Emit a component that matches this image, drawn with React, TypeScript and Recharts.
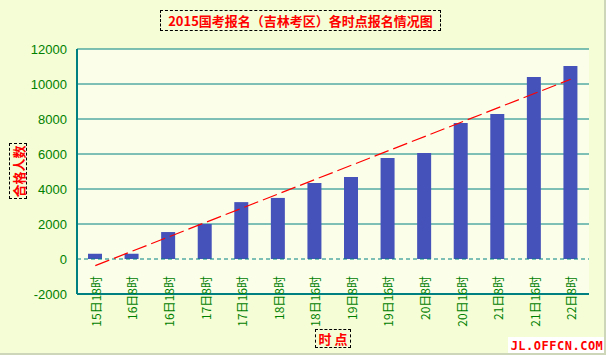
import React from "react";
import {
  ComposedChart,
  Bar,
  Line,
  XAxis,
  YAxis,
  CartesianGrid,
  ReferenceLine,
} from "recharts";

const categories = [
  "15日18时", "16日8时", "16日18时", "17日8时", "17日16时", "18日8时", "18日16时",
  "19日8时", "19日16时", "20日8时", "20日16时", "21日8时", "21日16时", "22日8时",
];
const applicants = [300, 300, 1540, 2000, 3250, 3490, 4340, 4690, 5770, 6060, 7770, 8290, 10400, 11030];
// trend line end points, nulls in between
const trend = [-380, null, null, null, null, null, null, null, null, null, null, null, null, 10270];
const yTicks = [-2000, 0, 2000, 4000, 6000, 8000, 10000, 12000];
const gridValues = [2000, 4000, 6000, 8000, 10000, 12000];

const data = categories.map((c, i) => ({ name: c, value: applicants[i], trend: trend[i] }));

const TEAL = "#008080";
const GREEN = "#008000";
const RED = "#ff0000";
const CJK = "'Noto Sans CJK SC', 'Liberation Sans', sans-serif";

function XTick(props: any) {
  const { x, y, payload } = props;
  // labels hang just below the zero line, reading bottom-to-top
  return (
    <text
      x={x}
      y={y - 26}
      transform={`rotate(-90, ${x}, ${y - 26})`}
      textAnchor="end"
      dominantBaseline="central"
      fill={GREEN}
      fontSize={12}
      fontFamily={CJK}
    >
      {payload.value}
    </text>
  );
}

const boxStyle: React.CSSProperties = {
  position: "absolute",
  border: "1px dashed #000",
  color: RED,
  fontWeight: "bold",
  fontSize: 13,
  fontFamily: CJK,
  boxSizing: "border-box",
  display: "flex",
  alignItems: "center",
  justifyContent: "center",
  lineHeight: 1,
};

export default function App() {
  return (
    <div
      style={{
        position: "absolute",
        left: 0,
        top: 0,
        width: 606,
        height: 355,
        background: "#f4fdd5",
        boxSizing: "border-box",
        borderRight: "2px solid #cdd6b8",
        borderBottom: "2px solid #cdd6b8",
        overflow: "hidden",
      }}
    >
      <ComposedChart
        width={606}
        height={355}
        data={data}
        margin={{ top: 49, right: 17, left: 27, bottom: 41 }}
      >
        <CartesianGrid
          vertical={false}
          horizontalValues={gridValues}
          stroke={TEAL}
          strokeWidth={1}
          fill="#fbffea"
        />
        <ReferenceLine y={0} stroke={TEAL} strokeDasharray="4 3" />
        <XAxis
          dataKey="name"
          interval={0}
          height={20}
          axisLine={{ stroke: TEAL, strokeWidth: 2 }}
          tickLine={false}
          tick={<XTick />}
        />
        <YAxis
          width={50}
          domain={[-2000, 12000]}
          ticks={yTicks}
          interval={0}
          axisLine={{ stroke: TEAL, strokeWidth: 2 }}
          tickLine={false}
          tickSize={0}
          tickMargin={10}
          tick={{ fill: GREEN, fontSize: 13, fontFamily: "'Liberation Sans', sans-serif" }}
        />
        <YAxis
          yAxisId="r"
          orientation="right"
          width={0}
          domain={[-2000, 12000]}
          tick={false}
          tickLine={false}
          axisLine={{ stroke: TEAL, strokeWidth: 2 }}
        />
        <Bar dataKey="value" fill="#4552b9" barSize={14} isAnimationActive={false} />
        <Line
          dataKey="trend"
          stroke={RED}
          strokeWidth={1.2}
          strokeDasharray="15 5"
          dot={false}
          connectNulls
          isAnimationActive={false}
        />
      </ComposedChart>

      <div style={{ ...boxStyle, left: 160, top: 10, width: 281, height: 21 }}>
        2015国考报名（吉林考区）各时点报名情况图
      </div>
      <div
        style={{
          ...boxStyle,
          left: 9,
          top: 143,
          width: 18,
          height: 56,
        }}
      >
        <span style={{ display: "inline-block", transform: "rotate(-90deg)", whiteSpace: "nowrap" }}>
          合格人数
        </span>
      </div>
      <div style={{ ...boxStyle, left: 315, top: 329, width: 36, height: 19 }}>时 点</div>
      <div
        style={{
          position: "absolute",
          left: 508,
          top: 337,
          width: 98,
          height: 18,
          background: "#fff",
          color: RED,
          fontWeight: "bold",
          fontSize: 12,
          fontFamily: "'DejaVu Sans Mono', monospace",
          display: "flex",
          alignItems: "center",
          justifyContent: "center",
          letterSpacing: 0.5,
        }}
      >
        JL.OFFCN.COM
      </div>
    </div>
  );
}
